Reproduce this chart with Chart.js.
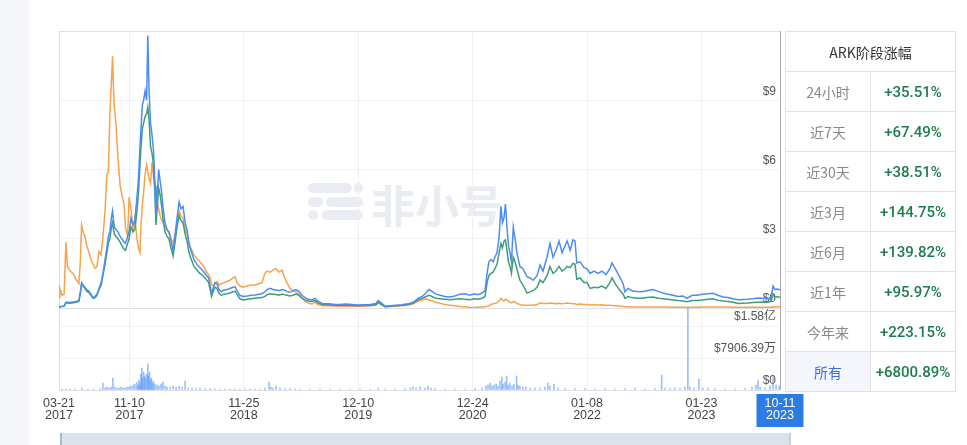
<!DOCTYPE html>
<html>
<head>
<meta charset="utf-8">
<script src="https://cdn.jsdelivr.net/npm/chart.js@4.4.0/dist/chart.umd.min.js"></script>
<style>
  body { margin: 0; width: 967px; height: 445px; overflow: hidden; background: #fff; position: relative;
         font-family: "Noto Sans CJK SC", sans-serif; }
  .side { position: absolute; left: 0; top: 0; width: 29px; height: 445px; background: #f4f6fa; }
  .wm { position: absolute; left: 308px; top: 180px; width: 200px; height: 45px; }
  .wm i { position: absolute; background: #e9ecf2; border-radius: 5px; }
  .wm span { position: absolute; left: 63px; top: -8px; font-size: 44px; font-weight: 700; color: #e9ecf2;
             white-space: nowrap; }
  #wrap { position: absolute; left: 0; top: 0; width: 967px; height: 429px; }
  .tb { position: absolute; left: 785px; top: 31px; width: 171px; border-collapse: collapse; }
  .tb th, .tb td { border: 1px solid #dfe1ec; height: 39px; padding: 0; text-align: center; }
  .tb th { font-size: 14px; font-weight: 400; color: #333; }
  .tb td { font-size: 14px; color: #888; width: 83px; }
  .tb td.up { color: #1b7d4e; font-family: Roboto, "Liberation Sans", sans-serif; font-weight: 500; font-size: 15px; }
  .tb tr.all td:first-child { background: #f4f6fb; color: #3a6fe3; }
  .nav { position: absolute; left: 60px; top: 433px; width: 727px; height: 12px; background: #dbe2ec;
         border-left: 2px solid #aeb7c5; border-right: 2px solid #c9d0dc; }
</style>
</head>
<body>
<div class="side"></div>
<div class="wm">
  <i style="left:0;top:3px;width:44px;height:10px"></i>
  <i style="left:46px;top:3px;width:9px;height:10px"></i>
  <i style="left:0;top:17px;width:15px;height:10px"></i>
  <i style="left:18px;top:17px;width:37px;height:10px"></i>
  <i style="left:0;top:30px;width:10px;height:10px"></i>
  <i style="left:14px;top:30px;width:41px;height:10px"></i>
  <span>非小号</span>
</div>
<div id="wrap"><canvas id="c"></canvas></div>
<table class="tb">
  <tr><th colspan="2">ARK阶段涨幅</th></tr>
  <tr><td>24小时</td><td class="up">+35.51%</td></tr>
  <tr><td>近7天</td><td class="up">+67.49%</td></tr>
  <tr><td>近30天</td><td class="up">+38.51%</td></tr>
  <tr><td>近3月</td><td class="up">+144.75%</td></tr>
  <tr><td>近6月</td><td class="up">+139.82%</td></tr>
  <tr><td>近1年</td><td class="up">+95.97%</td></tr>
  <tr><td>今年来</td><td class="up">+223.15%</td></tr>
  <tr class="all"><td>所有</td><td class="up">+6800.89%</td></tr>
</table>
<div class="nav"></div>
<script>
// x values are days since 2017-03-21
const xTickDays = [0, 234, 614, 994, 1374, 1754, 2134, 2395];
const xTickLabels = [['03-21', '2017'], ['11-10', '2017'], ['11-25', '2018'], ['12-10', '2019'],
  ['12-24', '2020'], ['01-08', '2022'], ['01-23', '2023'], ['10-11', '2023']];
const priceTicks = [0, 3, 6, 9, 12];
const volTickValues = [0, 79.0639, 158.1278];   // million USD
const volTickLabels = ['$0', '$7906.39万', '$1.58亿'];

const dayOffsets = [
  0, 3, 10, 17, 23, 28, 37, 47, 56, 66,
  71, 75, 80, 86, 93, 100, 106, 113, 120, 126,
  133, 140, 146, 153, 159, 164, 169, 174, 178, 181,
  184, 189, 196, 203, 209, 216, 221, 228, 233, 239,
  246, 252, 259, 264, 269, 272, 277, 281, 286, 291,
  295, 299, 304, 309, 314, 319, 322, 326, 331, 336,
  341, 346, 352, 359, 365, 372, 379, 385, 392, 399,
  405, 412, 419, 425, 432, 438, 448, 458, 468, 478,
  488, 497, 502, 507, 512, 518, 525, 531, 540, 548,
  558, 568, 578, 585, 591, 601, 611, 625, 638, 651,
  664, 674, 684, 691, 701, 711, 721, 731, 741, 747,
  757, 767, 777, 787, 797, 807, 817, 827, 840, 850,
  860, 874, 894, 914, 933, 953, 973, 993, 1013, 1033,
  1053, 1060, 1070, 1083, 1100, 1119, 1139, 1159, 1176, 1193,
  1206, 1219, 1229, 1239, 1252, 1266, 1282, 1299, 1315, 1332,
  1349, 1365, 1379, 1392, 1405, 1415, 1422, 1428, 1435, 1442,
  1448, 1455, 1462, 1468, 1473, 1478, 1483, 1488, 1493, 1498,
  1503, 1509, 1515, 1521, 1531, 1541, 1555, 1565, 1575, 1588,
  1598, 1608, 1621, 1631, 1641, 1651, 1661, 1671, 1681, 1688,
  1698, 1707, 1714, 1720, 1731, 1744, 1754, 1764, 1777, 1790,
  1804, 1817, 1830, 1837, 1850, 1864, 1874, 1880, 1890, 1903,
  1920, 1937, 1953, 1973, 1990, 2006, 2023, 2040, 2056, 2073,
  2086, 2103, 2119, 2136, 2156, 2172, 2189, 2206, 2222, 2239,
  2256, 2272, 2289, 2305, 2322, 2339, 2355, 2365, 2372, 2378,
  2388, 2395
];

const seriesBlue = [
  .05, .06, .07, .08, .25, .25, .24, .26, .28, .32,
  .7, 1.1, 1.0, .9, .78, .72, .6, .45, .5, .6,
  .85, 1.1, 1.5, 2.1, 2.6, 3.1, 3.3, 3.9, 4.2, 3.8,
  3.5, 3.4, 3.3, 3.1, 3.0, 2.85, 2.8, 3.1, 3.3, 3.9,
  3.6, 3.8, 4.8, 5.6, 7.0, 7.7, 8.8, 9.0, 9.4, 9.0,
  11.8, 9.5, 8.0, 7.5, 6.8, 5.3, 4.0, 4.8, 6.0, 5.5,
  5.0, 4.3, 3.7, 3.4, 3.3, 2.9, 2.5, 3.1, 3.9, 4.6,
  4.3, 4.4, 3.7, 3.4, 2.8, 2.5, 2.1, 1.9, 1.75, 1.6,
  1.45, 1.3, .95, .65, .85, 1.1, 1.05, .8, .7, .78,
  .8, .85, .9, .92, .75, .55, .5, .52, .55, .56,
  .6, .62, .7, .8, .85, .8, .78, .75, .8, .78,
  .72, .68, .75, .8, .72, .55, .45, .38, .35, .42,
  .3, .2, .18, .16, .15, .17, .15, .13, .14, .15,
  .2, .32, .22, .08, .1, .12, .14, .18, .25, .42,
  .5, .65, .8, .72, .6, .55, .5, .48, .52, .6,
  .62, .55, .62, .58, .65, .75, 1.5, 2.0, 2.1, 2.0,
  2.2, 2.4, 3.1, 4.4, 3.7, 3.9, 4.5, 3.5, 2.7, 2.4,
  2.0, 3.5, 3.0, 2.4, 1.8, 1.7, 1.35, 1.3, 1.2, 1.4,
  1.86, 1.6, 2.2, 2.8, 2.2, 2.5, 2.9, 2.4, 2.7, 2.9,
  2.5, 2.95, 2.9, 1.95, 2.0, 1.75, 1.7, 1.5, 1.6, 1.5,
  1.6, 1.45, 1.7, 1.95, 1.65, 1.3, 1.05, .7, .85, .75,
  .72, .7, .75, .8, .72, .65, .6, .55, .5, .52,
  .42, .55, .55, .6, .62, .64, .55, .48, .45, .4,
  .36, .37, .38, .4, .43, .42, .4, .45, .95, .8,
  .82, .78
];

const seriesGreen = [
  .04, .05, .06, .07, .22, .22, .21, .23, .25, .29,
  .65, 1.0, .95, .85, .72, .66, .55, .42, .45, .55,
  .8, 1.0, 1.4, 1.9, 2.4, 2.8, 3.0, 3.5, 3.7, 3.4,
  3.2, 3.1, 3.0, 2.85, 2.7, 2.55, 2.5, 2.8, 3.0, 3.5,
  3.3, 3.4, 4.2, 5.0, 6.2, 6.9, 7.8, 8.0, 8.3, 8.4,
  8.7, 8.2, 7.0, 6.7, 6.2, 4.8, 3.6, 4.3, 5.2, 4.9,
  4.4, 3.8, 3.3, 3.1, 3.0, 2.6, 2.25, 2.8, 3.5, 4.0,
  3.8, 3.7, 3.2, 2.9, 2.4, 2.15, 1.8, 1.65, 1.5, 1.4,
  1.25, 1.1, .8, .5, .7, .9, .85, .65, .55, .6,
  .62, .65, .7, .72, .6, .4, .35, .38, .4, .42,
  .44, .45, .5, .58, .62, .6, .58, .55, .6, .58,
  .55, .52, .55, .6, .55, .42, .35, .3, .28, .32,
  .22, .15, .14, .12, .12, .13, .12, .1, .11, .11,
  .15, .25, .17, .06, .08, .1, .12, .15, .2, .35,
  .42, .5, .55, .5, .42, .4, .38, .36, .38, .4,
  .38, .36, .4, .38, .42, .5, 1.1, 1.4, 1.5, 1.55,
  1.7, 1.9, 2.4, 2.8, 2.6, 2.9, 2.95, 2.5, 2.0, 1.8,
  1.5, 2.2, 2.0, 1.7, 1.2, 1.0, .65, .7, .75, .9,
  1.21, 1.1, 1.4, 1.79, 1.5, 1.6, 1.8, 1.6, 1.7, 1.8,
  1.75, 1.93, 1.9, 1.25, 1.3, 1.1, 1.1, .85, .9, .88,
  .95, .85, 1.1, 1.3, 1.0, .75, .6, .42, .5, .45,
  .42, .42, .45, .48, .42, .4, .38, .35, .32, .3,
  .27, .32, .33, .35, .38, .4, .33, .3, .28, .25,
  .2, .21, .22, .24, .25, .26, .25, .3, .56, .5,
  .48, .46
];

const seriesOrange = [
  .45, .85, .55, .6, 2.85, 1.8, 1.6, 1.5, 1.25, 1.05,
  2.0, 3.6, 3.3, 3.1, 2.65, 2.4, 2.1, 1.9, 1.72, 1.8,
  2.45, 2.3, 3.1, 4.2, 5.8, 5.9, 8.4, 9.8, 10.9, 9.5,
  8.7, 8.0, 6.5, 5.3, 4.9, 4.5, 3.5, 3.1, 4.8, 4.3,
  3.4, 3.9, 3.0, 2.6, 2.4, 3.5, 4.5, 5.0, 5.8, 6.2,
  5.9, 5.6, 5.4, 6.3, 5.7, 5.1, 4.9, 4.6, 4.3, 4.0,
  3.8, 3.7, 3.5, 3.35, 3.3, 3.0, 2.8, 3.1, 3.6, 4.2,
  4.0, 3.9, 3.4, 3.2, 2.75, 2.6, 2.3, 2.15, 2.0, 1.85,
  1.6, 1.45, 1.3, 1.0, .95, 1.05, 1.15, 1.0, 1.05, 1.1,
  1.15, 1.2, 1.3, 1.35, 1.1, .95, .9, .95, 1.0, 1.0,
  1.05, 1.1, 1.5, 1.6, 1.55, 1.65, 1.7, 1.55, 1.65, 1.4,
  1.1, .85, .75, .7, .6, .45, .3, .22, .17, .25,
  .15, .1, .1, .09, .08, .09, .08, .08, .09, .1,
  .12, .22, .14, .05, .06, .08, .1, .12, .18, .3,
  .35, .4, .35, .32, .25, .2, .15, .12, .1, .07,
  .05, .03, .02, .03, .04, .05, .08, .1, .15, .18,
  .2, .22, .3, .42, .35, .3, .38, .35, .3, .25,
  .22, .28, .25, .2, .15, .13, .12, .12, .13, .15,
  .23, .2, .2, .22, .2, .18, .2, .18, .2, .22,
  .2, .18, .18, .15, .17, .15, .15, .13, .15, .13,
  .14, .12, .12, .11, .1, .08, .06, .05, .05, .04,
  .04, .04, .04, .04, .04, .04, .04, .03, .03, .03,
  .03, .03, .03, .04, .04, .04, .04, .04, .04, .03,
  .03, .03, .03, .03, .03, .03, .03, .03, .05, .04,
  .05, .05
];

// trading volume, million USD
const volDays = [
  10, 23, 37, 53, 76, 96, 116, 136, 146, 153,
  159, 166, 173, 179, 186, 193, 199, 206, 213, 219,
  226, 233, 239, 246, 252, 259, 262, 266, 269, 272,
  275, 277, 281, 284, 287, 291, 295, 297, 301, 304,
  307, 311, 314, 319, 326, 332, 339, 345, 352, 359,
  369, 379, 389, 399, 409, 419, 429, 442, 455, 468,
  485, 502, 518, 535, 551, 568, 585, 601, 618, 634,
  651, 668, 684, 698, 704, 711, 721, 734, 751, 767,
  784, 801, 834, 867, 900, 933, 967, 1000, 1033, 1060,
  1083, 1116, 1149, 1166, 1176, 1186, 1199, 1216, 1226, 1236,
  1249, 1282, 1315, 1349, 1382, 1405, 1418, 1425, 1432, 1438,
  1445, 1452, 1458, 1465, 1471, 1475, 1482, 1487, 1492, 1498,
  1505, 1511, 1520, 1525, 1531, 1541, 1551, 1565, 1581, 1598,
  1614, 1624, 1631, 1644, 1658, 1681, 1714, 1747, 1780, 1814,
  1847, 1880, 1913, 1947, 1980, 2002, 2013, 2030, 2046, 2063,
  2079, 2089, 2096, 2109, 2126, 2139, 2156, 2179, 2212, 2246,
  2279, 2302, 2315, 2322, 2329, 2345, 2362, 2372, 2382, 2392
];
const volValues = [
  2.5, 2.5, 2.5, 2.5, 5.0, 2.5, 2.5, 3.7, 17.3, 5.0,
  7.4, 5.0, 7.4, 29.7, 7.4, 5.0, 5.0, 7.4, 5.0, 5.0,
  7.4, 7.4, 9.9, 12.4, 14.9, 19.8, 12.4, 24.8, 17.3, 39.6,
  54.5, 29.7, 44.6, 34.7, 29.7, 39.6, 64.4, 34.7, 44.6, 24.8,
  29.7, 17.3, 22.3, 14.9, 12.4, 9.9, 14.9, 19.8, 9.9, 7.4,
  7.4, 9.9, 7.4, 9.9, 7.4, 22.3, 5.0, 5.0, 3.7, 5.0,
  3.7, 3.7, 2.5, 2.5, 2.5, 2.5, 2.5, 2.5, 2.5, 2.5,
  2.5, 2.5, 5.0, 19.8, 7.4, 5.0, 9.9, 5.0, 3.7, 3.7,
  2.5, 2.5, 2.5, 2.5, 2.5, 2.5, 2.5, 2.5, 2.5, 5.0,
  2.5, 2.5, 3.7, 5.0, 7.4, 5.0, 7.4, 5.0, 9.9, 5.0,
  3.7, 2.5, 2.5, 2.5, 3.7, 5.0, 9.9, 12.4, 17.3, 9.9,
  12.4, 14.9, 9.9, 22.3, 32.2, 14.9, 19.8, 34.7, 12.4, 17.3,
  9.9, 14.9, 34.7, 12.4, 9.9, 7.4, 7.4, 5.0, 5.0, 5.0,
  7.4, 17.3, 9.9, 14.9, 5.0, 3.7, 3.7, 3.7, 2.5, 3.7,
  2.5, 3.7, 5.0, 2.5, 3.7, 37.1, 5.0, 3.7, 5.0, 3.7,
  7.4, 203, 7.4, 5.0, 27.2, 5.0, 5.0, 3.7, 2.5, 2.5,
  3.7, 7.4, 12.4, 24.8, 7.4, 5.0, 9.9, 32.2, 12.4, 9.9
];

function toPoints(values) {
  return dayOffsets.map((d, i) => ({ x: d, y: values[i] }));
}

Chart.defaults.font.family = '"Liberation Sans", Arial, "Noto Sans CJK SC", sans-serif';

// blue box behind the last date label, drawn before the scales paint their labels
const lastTickBox = {
  id: 'lastTickBox',
  beforeDraw(chart) {
    const s = chart.scales.x;
    const px = s.getPixelForValue(xTickDays[xTickDays.length - 1]);
    const ctx = chart.ctx;
    ctx.save();
    ctx.fillStyle = '#2d7be5';
    ctx.fillRect(px - 23.5, s.top + 4, 47, 33);
    ctx.restore();
  }
};

const lineStyle = { borderWidth: 1.5, pointRadius: 0, tension: 0, yAxisID: 'yPrice' };

new Chart(document.getElementById('c'), {
  type: 'line',
  data: {
    datasets: [
      Object.assign({ label: 'ARK价格', data: toPoints(seriesBlue), borderColor: '#4d8cf4' }, lineStyle),
      Object.assign({ label: '对比1', data: toPoints(seriesGreen), borderColor: '#3f9d7a' }, lineStyle),
      Object.assign({ label: '对比2', data: toPoints(seriesOrange), borderColor: '#f8a24c' }, lineStyle),
      {
        type: 'bar', label: '成交额', yAxisID: 'yVol',
        data: volDays.map((d, i) => ({ x: d, y: volValues[i] })),
        backgroundColor: 'rgba(77,140,244,0.55)', barThickness: 1, borderWidth: 0
      }
    ]
  },
  plugins: [lastTickBox],
  options: {
    responsive: true,
    maintainAspectRatio: false,
    animation: false,
    events: [],
    layout: { padding: { left: 59, top: 31, right: 187, bottom: 0 } },
    plugins: { legend: { display: false }, tooltip: { enabled: false } },
    scales: {
      yPrice: {
        type: 'linear', position: 'right', stack: 'main', stackWeight: 277,
        min: 0, max: 12,
        afterBuildTicks: s => { s.ticks = priceTicks.map(v => ({ value: v })); },
        border: { display: false },
        grid: { drawTicks: false, color: c => (c.tick.value === 0 || c.tick.value === 12) ? '#dcdfe8' : '#f0f2f6' },
        ticks: {
          mirror: true, padding: -4, labelOffset: -9, color: '#555', font: { size: 12 },
          callback: v => v === 12 ? '' : '$' + v
        }
      },
      yVol: {
        type: 'linear', position: 'right', stack: 'main', stackWeight: 82,
        min: 0, max: 203,
        afterBuildTicks: s => { s.ticks = volTickValues.map(v => ({ value: v })); },
        border: { display: false },
        grid: { drawTicks: false, color: c => c.tick.value === 0 ? '#dcdfe8' : '#f0f2f6' },
        ticks: {
          mirror: true, padding: -4, labelOffset: -9, color: '#555', font: { size: 12 },
          callback: (v, i) => volTickLabels[i]
        }
      },
      x: {
        type: 'linear', min: 0, max: 2395, offset: false,
        afterBuildTicks: s => { s.ticks = xTickDays.map(v => ({ value: v })); },
        border: { display: false },
        grid: {
          offset: false, drawTicks: false,
          color: c => c.index === 0 ? '#dcdfe8' : (c.index === xTickDays.length - 1 ? '#a9a9a9' : '#eef0f4')
        },
        ticks: {
          autoSkip: false, maxRotation: 0, padding: 7,
          font: { size: 12.5, lineHeight: 1.0 },
          color: c => c.index === xTickDays.length - 1 ? '#ffffff' : '#444',
          callback: (v, i) => xTickLabels[i]
        }
      }
    }
  }
});
</script>
</body>
</html>
